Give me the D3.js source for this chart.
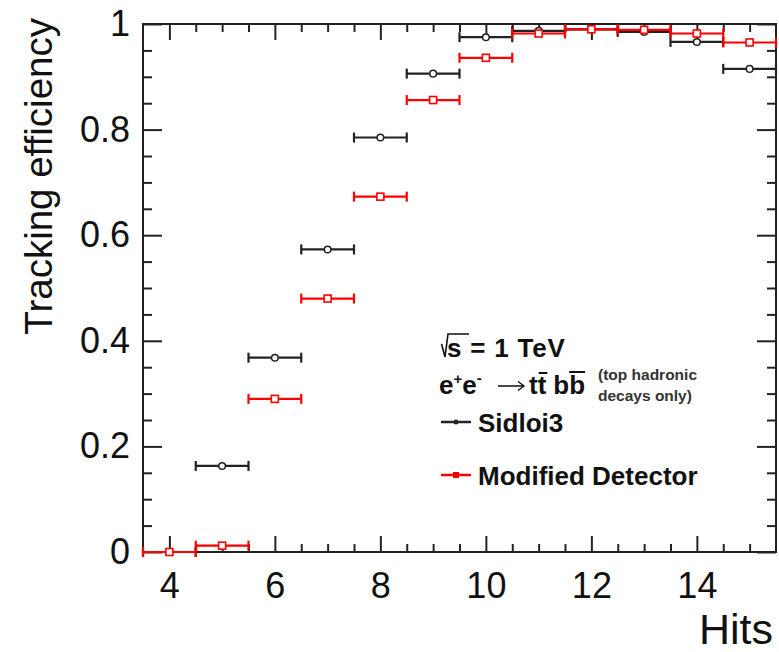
<!DOCTYPE html>
<html lang="en">
<head>
    <meta charset="utf-8">
    <title>Tracking efficiency vs hits</title>
    <script src="https://cdn.jsdelivr.net/npm/d3@7"></script>
    <style>
        body { margin: 0; background: #fff; }
        text { font-family: "Liberation Sans", Arial, sans-serif; }
        .tick text { font-size: 36px; fill: #111; }
        .domain { display: none; }
        .tick line { stroke: #222; stroke-width: 2; }
    </style>
</head>
<body>
    <svg id="chart" width="779" height="652"></svg>
    <script>
        // values, one per bin of hits
        const hits = [4, 5, 6, 7, 8, 9, 10, 11, 12, 13, 14, 15];
        const sidloi3 = [0, 0.163, 0.368, 0.573, 0.785, 0.906, 0.975, 0.987, 0.990, 0.985, 0.966, 0.915];
        const modified = [0, 0.012, 0.290, 0.480, 0.673, 0.856, 0.936, 0.982, 0.990, 0.989, 0.982, 0.965];
        const xMajor = [4, 6, 8, 10, 12, 14];
        const yMajor = [0, 0.2, 0.4, 0.6, 0.8, 1];
        const yLabels = ['0', '0.2', '0.4', '0.6', '0.8', '1'];

        const svg = d3.select('#chart');
        const padL = 143, padR = 776, padT = 24, padB = 552;

        const x = d3.scaleLinear().domain([3.5, 15.5]).range([padL, padR]);
        const y = d3.scaleLinear().domain([0, 1]).range([padB, padT]);

        const xMinor = d3.range(4.5, 15.5, 0.5).filter(d => !xMajor.includes(d));
        const yMinor = d3.range(0.05, 1, 0.05).filter(d => Math.abs(d * 5 - Math.round(d * 5)) > 1e-6);

        // ticks point inwards on all four sides
        svg.append('g').attr('transform', `translate(0,${padB})`)
            .call(d3.axisBottom(x).tickValues(xMajor).tickSize(-16).tickSizeOuter(0).tickPadding(20))
        svg.append('g').attr('transform', `translate(0,${padB})`)
            .call(d3.axisBottom(x).tickValues(xMinor).tickSize(-8).tickSizeOuter(0).tickFormat(''))
        svg.append('g').attr('transform', `translate(0,${padT})`)
            .call(d3.axisTop(x).tickValues(xMajor).tickSize(-16).tickSizeOuter(0).tickFormat(''))
        svg.append('g').attr('transform', `translate(0,${padT})`)
            .call(d3.axisTop(x).tickValues(xMinor).tickSize(-8).tickSizeOuter(0).tickFormat(''))

        svg.append('g').attr('transform', `translate(${padL},0)`)
            .call(d3.axisLeft(y).tickValues(yMajor).tickSize(-19).tickSizeOuter(0).tickPadding(13)
                .tickFormat((d, i) => yLabels[i]))
        svg.append('g').attr('transform', `translate(${padL},0)`)
            .call(d3.axisLeft(y).tickValues(yMinor).tickSize(-9).tickSizeOuter(0).tickFormat(''))
        svg.append('g').attr('transform', `translate(${padR},0)`)
            .call(d3.axisRight(y).tickValues(yMajor).tickSize(-19).tickSizeOuter(0).tickFormat(''))
        svg.append('g').attr('transform', `translate(${padR},0)`)
            .call(d3.axisRight(y).tickValues(yMinor).tickSize(-9).tickSizeOuter(0).tickFormat(''))

        // frame
        svg.append('rect')
            .attr('x', padL).attr('y', padT)
            .attr('width', padR - padL).attr('height', padB - padT)
            .attr('fill', 'none').attr('stroke', '#222').attr('stroke-width', 2)

        function drawSeries(vals, color, marker) {
            const g = svg.append('g')
            const pts = hits.map((h, i) => ({ h: h, v: vals[i] }))
            g.selectAll('.bar').data(pts).join('line')
                .attr('x1', d => x(d.h - 0.5)).attr('x2', d => x(d.h + 0.5))
                .attr('y1', d => y(d.v)).attr('y2', d => y(d.v))
                .attr('stroke', color).attr('stroke-width', 2.2)
            g.selectAll('.capL').data(pts).join('line')
                .attr('x1', d => x(d.h - 0.5)).attr('x2', d => x(d.h - 0.5))
                .attr('y1', d => y(d.v) - 5).attr('y2', d => y(d.v) + 5)
                .attr('stroke', color).attr('stroke-width', 2.2)
            g.selectAll('.capR').data(pts).join('line')
                .attr('x1', d => x(d.h + 0.5)).attr('x2', d => x(d.h + 0.5))
                .attr('y1', d => y(d.v) - 5).attr('y2', d => y(d.v) + 5)
                .attr('stroke', color).attr('stroke-width', 2.2)
            if (marker == 'circle') {
                g.selectAll('circle').data(pts).join('circle')
                    .attr('cx', d => x(d.h)).attr('cy', d => y(d.v)).attr('r', 3.3)
                    .attr('fill', '#fff').attr('stroke', color).attr('stroke-width', 1.5)
            } else {
                g.selectAll('rect').data(pts).join('rect')
                    .attr('x', d => x(d.h) - 3.5).attr('y', d => y(d.v) - 3.5)
                    .attr('width', 7).attr('height', 7)
                    .attr('fill', '#fff').attr('stroke', color).attr('stroke-width', 1.6)
            }
        }
        drawSeries(sidloi3, '#222', 'circle')
        drawSeries(modified, '#ff0000', 'square')

        // axis titles
        svg.append('text')
            .attr('transform', 'translate(52,18) rotate(-90)')
            .attr('text-anchor', 'end')
            .style('font-size', '38.5px').style('fill', '#111')
            .text('Tracking efficiency')
        svg.append('text')
            .attr('x', 773).attr('y', 644)
            .attr('text-anchor', 'end')
            .style('font-size', '43px').style('fill', '#111')
            .text('Hits')

        // legend / labels
        const lg = svg.append('g').style('font-weight', 'bold').style('fill', '#111')
        lg.append('path')
            .attr('d', 'M441.5,344 L445,357 L448,334 L469,334')
            .attr('fill', 'none').attr('stroke', '#111').attr('stroke-width', 1.6)
        lg.append('text').attr('x', 447).attr('y', 357).style('font-size', '26px')
            .style('letter-spacing', '0.8px').text('s = 1 TeV')

        // e+e- -> tt bb, placed piece by piece
        let cx = 439
        const base = 394
        function piece(str, size, dy) {
            const t = lg.append('text').attr('x', cx).attr('y', base + dy)
                .style('font-size', size + 'px').text(str)
            const w = t.node().getComputedTextLength()
            const start = cx
            cx += w
            return { start: start, w: w }
        }
        piece('e', 26, 0)
        piece('+', 15, -10)
        piece('e', 26, 0)
        piece('-', 15, -11)
        // thin arrow
        lg.append('path')
            .attr('d', 'M498,386 L524,386 M518,381.5 L524,386 L518,390.5')
            .attr('fill', 'none').attr('stroke', '#111').attr('stroke-width', 1.4)
        cx = 529
        piece('t', 26, 0)
        const t2 = piece('t', 26, 0)
        cx += 7
        piece('b', 26, 0)
        const b2 = piece('b', 26, 0)
        lg.append('line').attr('x1', t2.start + 1).attr('x2', t2.start + t2.w + 1)
            .attr('y1', base - 21).attr('y2', base - 21).attr('stroke', '#111').attr('stroke-width', 2)
        lg.append('line').attr('x1', b2.start).attr('x2', b2.start + b2.w)
            .attr('y1', base - 22).attr('y2', base - 22).attr('stroke', '#111').attr('stroke-width', 2)

        lg.append('text').attr('x', 598).attr('y', 380).style('font-size', '15.5px').style('fill', '#333')
            .text('(top hadronic')
        lg.append('text').attr('x', 598).attr('y', 401).style('font-size', '15.5px').style('fill', '#333')
            .text('decays only)')

        // series entries
        const entries = [
            { name: 'Sidloi3', color: '#222', y: 422, marker: 'circle' },
            { name: 'Modified Detector', color: '#ff0000', y: 475, marker: 'square' }
        ]
        entries.forEach(e => {
            lg.append('line').attr('x1', 441).attr('x2', 471).attr('y1', e.y).attr('y2', e.y)
                .attr('stroke', e.color).attr('stroke-width', 2.5)
            if (e.marker == 'circle') {
                lg.append('circle').attr('cx', 456).attr('cy', e.y).attr('r', 2.5).attr('fill', e.color)
            } else {
                lg.append('rect').attr('x', 453).attr('y', e.y - 3).attr('width', 6).attr('height', 6)
                    .attr('fill', e.color)
            }
            lg.append('text').attr('x', 478).attr('y', e.y + 10).style('font-size', '26px').text(e.name)
        })
    </script>
</body>
</html>
